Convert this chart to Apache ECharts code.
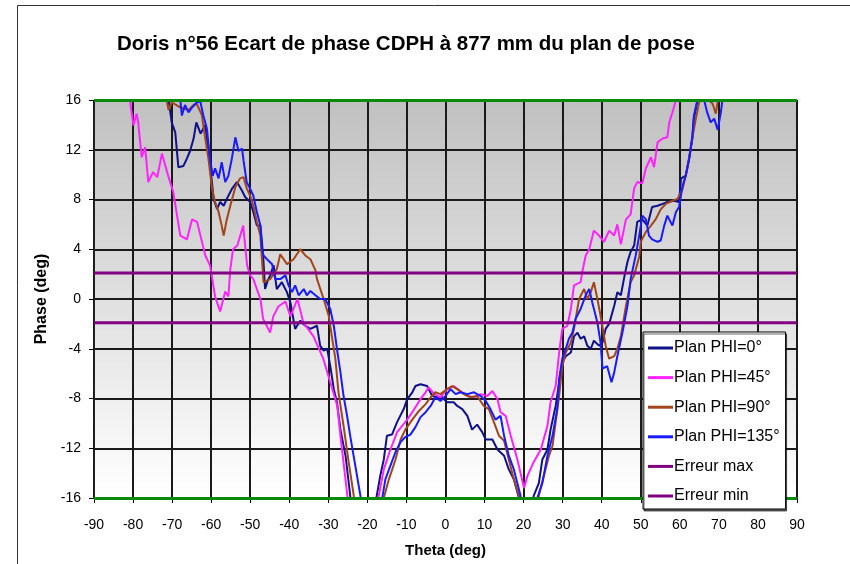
<!DOCTYPE html>
<html>
<head>
<meta charset="utf-8">
<script src="https://cdn.jsdelivr.net/npm/echarts@6/dist/echarts.min.js"></script>
<style>
  html, body { margin: 0; padding: 0; background: #ffffff; }
  #chart { width: 850px; height: 564px; }
</style>
</head>
<body>
<div id="chart"></div>
<script>
// Axis ticks
const thetaTicks = [-90, -80, -70, -60, -50, -40, -30, -20, -10, 0, 10, 20, 30, 40, 50, 60, 70, 80, 90];
const phaseTicks = [-16, -12, -8, -4, 0, 4, 8, 12, 16];

// Plan PHI=0°
const phi0Theta = [-72, -70.9, -70.1, -69.2, -68.4, -67.1, -66.2, -65.4, -64.5, -63.8, -62.7, -61.5, -60.7, -59.8, -59.4, -58.5, -57.7, -56.8, -56.0, -54.7, -53.4, -52.1, -51.3, -50.0, -49.2, -48.3, -47.4, -47.0, -46.6, -46.2, -45.5, -44.9, -44.0, -43.2, -41.9, -40.6, -39.7, -38.5, -37.2, -35.9, -34.6, -32.9, -32.1, -31.2, -30.3, -29.5, -28.6, -27.8, -26.9, -25.6, -24.4, -23.8,
  -18.5, -17.7, -16.7, -15.8, -15.0, -13.7, -12.4, -10.7, -9.8, -8.5, -7.7, -6.4, -4.7, -3.4, -2.1, -0.85, 0.4, 2.1, 3.0, 4.3, 5.6, 6.8, 8.1, 9.4, 10.3, 12.0, 13.3, 15.0, 16.2, 17.5, 18.8, 19.5,
  21.5, 22.6, 23.9, 24.8, 26.1, 26.9, 28.2, 29.1, 29.9, 30.8, 32.1, 32.9, 33.8, 34.6, 35.5, 36.3, 37.2, 38.0, 39.3, 40.2, 41.0, 41.9, 43.2, 44.0, 44.9, 45.8, 46.6, 47.4, 48.3, 49.1, 50.4, 51.7, 52.9, 54.3, 55.6, 56.8, 58.5, 59.8, 60.3, 61.5, 62.4, 63.2, 63.6, 64.5, 65.5, 67.0, 68.0, 69.0, 70.0];
const phi0Phase = [18, 16, 14.2, 13.4, 10.6, 10.7, 11.3, 11.9, 12.9, 14.2, 13.3, 14.0, 11.8, 9.4, 8.05, 7.25, 7.8, 7.5, 8.05, 8.85, 9.4, 8.7, 8.2, 7.8, 7.0, 5.9, 5.9, 4.6, 3.0, 0.8, 1.5, 1.9, 2.7, 0.8, 1.35, 0.55, -0.3, -2.4, -1.75, -2.15, -2.4, -2.15, -3.75, -4.15, -4.0, -5.4, -7.25, -8.3, -10.5, -12.6, -15.8, -17.5,
  -17.5, -16, -14.2, -12.9, -11.0, -10.9, -9.9, -8.85, -8.05, -7.5, -7.0, -6.85, -7.0, -7.8, -7.9, -7.9, -8.3, -8.3, -8.6, -8.85, -9.4, -10.5, -10.1, -10.7, -11.3, -11.3, -12.1, -12.6, -13.7, -14.5, -16, -17.5,
  -17.5, -15.8, -14.8, -12.9, -12.1, -10.5, -8.6, -6.7, -5.1, -4.6, -4.3, -3.0, -2.7, -3.2, -3.0, -3.75, -4.0, -3.35, -3.75, -3.5, -2.4, -2.0, -0.55, 0.55, 0.3, 1.8, 3.0, 3.8, 4.3, 6.2, 6.4, 5.9, 7.4, 7.5, 7.65, 7.8, 7.9, 7.8, 9.7, 9.9, 11.3, 12.9, 14.5, 15.9, 16.6, 16.3, 15.8, 16.4, 17.5];

// Plan PHI=45°
const phi45Theta = [-82, -80.8, -79.9, -79.1, -78.7, -77.8, -76.9, -76.1, -74.9, -73.8, -72.6, -71.0, -69.7, -67.9, -66.2, -64.9, -63.6, -61.5, -60.3, -59.7, -59.0, -57.7, -56.4, -55.6, -55.1, -54.4, -53.3, -51.8, -50.8, -50.0, -49.2, -47.4, -46.7, -44.9, -44.1, -42.8, -41.0, -39.7, -37.9, -36.4, -33.8, -31.3, -29.5, -27.7, -26.9, -25.1, -24.5,
  -17.8, -17.2, -15.8, -14.1, -12.4, -11.1, -9.8, -8.1, -6.4, -5.1, -4.3, -3.0, -1.3, 0.4, 2.1, 3.8, 5.6, 7.3, 9.0, 10.7, 12.0, 13.3, 14.1, 15.4, 16.7, 18.4, 20.1, 21.0, 22.6, 24.4, 26.1, 26.9, 28.2, 29.1, 29.9, 31.2, 32.1, 32.9, 34.6, 35.0, 35.9, 36.8, 38.0, 39.3, 40.6, 41.9, 43.2, 44.0, 44.9, 46.2, 47.4, 48.3, 49.1, 50.4, 51.3, 52.6, 53.4, 54.3, 55.6, 56.8, 57.3, 58.1, 59.0, 59.5];
const phi45Phase = [18, 16.0, 13.95, 14.9, 14.25, 11.4, 12.2, 9.4, 10.2, 9.8, 11.7, 9.9, 8.6, 5.1, 4.8, 6.4, 6.2, 3.5, 2.7, 1.6, 0.2, -1.0, 0.6, 0.2, 2.4, 4.0, 4.3, 5.9, 2.7, 1.9, 1.6, 0, -1.6, -2.7, -1.4, -0.6, -0.2, -1.4, 0, -1.9, -3.0, -4.8, -6.7, -8.6, -11.0, -15.9, -17.5,
  -17.5, -16, -13.7, -12.1, -10.7, -10.2, -9.7, -8.9, -8.05, -7.5, -7.1, -7.6, -7.9, -7.25, -7.0, -7.4, -7.8, -7.9, -7.65, -7.8, -7.4, -8.05, -9.1, -9.4, -11.0, -12.9, -15.2, -14.2, -13.1, -12.1, -10.2, -8.3, -7.0, -4.3, -2.4, -2.15, -0.8, 1.1, 1.35, 2.15, 3.5, 4.0, 5.5, 5.1, 4.6, 5.5, 5.1, 6.0, 4.4, 6.4, 6.8, 8.9, 9.4, 9.3, 10.5, 11.4, 10.6, 12.6, 12.9, 13.0, 14.2, 15.0, 16.0, 17.5];

// Plan PHI=90°
const phi90Theta = [-72, -71.4, -70.9, -70.1, -67.9, -65.8, -64.5, -63.7, -62.4, -61.5, -60.7, -59.8, -59.0, -58.1, -57.3, -56.8, -56.0, -55.1, -53.8, -52.6, -51.7, -50.9, -50.0, -49.2, -48.3, -47.4, -47.0, -46.6, -44.9, -43.2, -42.3, -40.6, -38.9, -37.2, -35.9, -34.6, -33.3, -32.9, -31.2, -29.9, -29.1, -28.2, -27.4, -26.1, -24.8, -23.5, -23.0,
  -16.5, -15.8, -14.5, -12.8, -11.5, -10.3, -8.5, -6.8, -5.1, -3.8, -2.6, -1.3, 0.4, 1.7, 3.0, 4.7, 6.4, 8.1, 9.8, 11.1, 12.4, 13.7, 15.0, 16.2, 17.5, 18.8, 19.5,
  23.2, 23.9, 25.2, 26.5, 27.4, 28.2, 29.1, 29.9, 30.8, 32.1, 32.9, 34.2, 35.5, 36.3, 37.2, 38.0, 38.9, 39.7, 41.0, 41.9, 43.2, 44.0, 44.9, 46.2, 47.4, 48.3, 49.6, 50.0, 51.3, 52.6, 53.8, 55.1, 56.4, 58.1, 59.4, 60.7, 61.9, 63.2, 64.1, 64.9, 65.5, 67.0, 68.5, 69.2, 70.0, 71.0];
const phi90Phase = [18, 16, 15.2, 15.8, 15.4, 15.2, 15.6, 15.7, 14.8, 12.9, 11.3, 8.9, 7.8, 7.0, 5.9, 5.1, 6.4, 7.5, 9.0, 9.7, 9.8, 8.9, 8.3, 7.5, 6.2, 5.1, 3.2, 1.35, 1.6, 2.4, 3.6, 2.8, 3.2, 4.0, 3.5, 3.2, 2.3, 1.6, 0, -1.35, -3.0, -4.8, -7.5, -10.2, -13.1, -15.8, -17.5,
  -17.5, -16, -14.5, -12.9, -11.3, -10.5, -9.7, -9.0, -8.45, -7.9, -7.5, -7.65, -7.25, -7.0, -7.25, -7.65, -7.9, -7.8, -8.6, -8.85, -9.9, -11.0, -11.4, -12.9, -14.5, -15.8, -17.5,
  -17.5, -15.8, -14.2, -12.6, -11.8, -9.9, -7.8, -5.4, -4.3, -3.5, -2.4, 0, 0.8, 0, 0.55, 1.35, 0, -1.35, -3.75, -4.8, -4.6, -4.0, -3.0, -0.55, 1.35, 1.9, 3.4, 4.6, 5.4, 5.9, 6.4, 7.2, 7.65, 7.9, 8.05, 8.85, 10.5, 12.9, 14.5, 15.75, 16.3, 16.5, 15.6, 14.9, 16.5, 17.5];

// Plan PHI=135°
const phi135Theta = [-69, -67.9, -67.5, -66.7, -65.8, -64.9, -63.7, -62.8, -62.0, -61.1, -60.3, -59.6, -59.0, -58.1, -57.3, -56.4, -55.6, -54.7, -53.8, -53.0, -52.1, -51.7, -50.9, -50.0, -49.2, -48.3, -47.4, -47.0, -46.6, -45.7, -44.4, -43.6, -42.3, -41.0, -40.2, -39.3, -38.5, -37.6, -36.3, -35.5, -34.6, -33.3, -32.1, -30.8, -29.5, -28.6, -27.8, -26.9, -26.1, -25.2, -24.4, -23.1, -21.8, -21.2,
  -17.0, -16.2, -15.4, -14.1, -12.8, -11.5, -10.3, -9.0, -7.7, -6.4, -5.1, -3.8, -2.6, -1.3, 0, 1.3, 2.6, 3.8, 5.6, 7.3, 9.0, 10.3, 11.5, 12.8, 14.1, 15.0, 16.2, 17.5, 19.2, 19.8,
  22.8, 23.5, 24.8, 26.1, 27.4, 28.6, 29.1, 29.9, 30.8, 31.6, 32.5, 33.3, 34.6, 35.9, 36.8, 37.6, 38.9, 39.7, 40.2, 41.4, 42.5, 43.2, 44.0, 45.3, 46.6, 47.4, 48.7, 49.6, 50.4, 51.3, 52.1, 52.9, 54.3, 55.1, 56.0, 56.8, 58.1, 59.0, 59.8, 60.7, 61.5, 62.4, 63.2, 63.6, 64.5, 65.5, 66.3, 67.0, 67.9, 68.8, 69.7, 70.5, 70.9, 71.3];
const phi135Phase = [18, 16, 14.75, 15.6, 15.0, 15.4, 15.8, 15.9, 14.75, 13.7, 11.3, 9.9, 10.5, 9.7, 11.0, 9.4, 9.9, 11.3, 13.0, 11.9, 12.1, 11.1, 9.4, 8.85, 8.3, 7.0, 5.9, 4.0, 3.5, 3.2, 2.8, 1.6, 1.6, 1.9, 1.1, 0.55, 1.1, 0.3, 0.8, 0.3, 0.65, 0.3, 0, 0, -0.8, -2.15, -4.0, -5.9, -7.8, -9.4, -11.0, -13.4, -15.8, -17.5,
  -17.5, -16, -14.5, -13.4, -12.3, -11.5, -11.1, -10.9, -10.3, -9.5, -9.1, -8.6, -7.9, -8.2, -7.8, -7.25, -7.65, -7.5, -7.65, -7.5, -7.8, -8.2, -8.85, -9.7, -9.4, -11.0, -12.6, -13.7, -15.8, -17.5,
  -17.5, -16, -14.8, -12.6, -11.0, -8.85, -6.4, -4.8, -4.0, -3.2, -2.7, -1.6, -0.8, 0.3, 0.8, -0.3, -1.9, -3.5, -5.6, -5.4, -6.7, -5.9, -4.6, -2.7, -0.55, 1.6, 3.5, 5.1, 6.7, 6.4, 5.1, 4.8, 4.6, 4.7, 5.9, 6.7, 5.9, 7.0, 7.4, 9.1, 9.9, 11.3, 13.1, 14.75, 16, 16.5, 15.9, 15.0, 14.2, 14.5, 13.6, 15.0, 16, 17.5];

// Tolerance limits
const errorMaxTheta = [-90, 90];
const errorMaxPhase = [2.1, 2.1];
const errorMinTheta = [-90, 90];
const errorMinPhase = [-1.9, -1.9];

const seriesNames = ['Plan PHI=0°', 'Plan PHI=45°', 'Plan PHI=90°', 'Plan PHI=135°', 'Erreur max', 'Erreur min'];
const seriesColors = ['#10108a', '#ff22ff', '#a0461a', '#1a1aff', '#800080', '#800080'];

function pairs(xs, ys) {
  return xs.map((x, i) => [x, ys[i]]);
}

const chart = echarts.init(document.getElementById('chart'), null, { renderer: 'canvas' });

const font = 'Liberation Sans, Arial, sans-serif';

function curve(idx, xs, ys, width) {
  return {
    name: seriesNames[idx],
    type: 'line',
    data: pairs(xs, ys),
    symbol: 'none',
    showSymbol: false,
    clip: true,
    color: seriesColors[idx],
    lineStyle: { color: seriesColors[idx], width: width },
    emphasis: { disabled: true },
    animation: false
  };
}

const errMax = curve(4, errorMaxTheta, errorMaxPhase, 3);
// green frame lines along the top and bottom of the phase range
errMax.markLine = {
  silent: true,
  symbol: 'none',
  label: { show: false },
  lineStyle: { color: '#0a8a0a', width: 3, type: 'solid' },
  data: [{ yAxis: phaseTicks[phaseTicks.length - 1] }, { yAxis: phaseTicks[0] }],
  animation: false
};

chart.setOption({
  animation: false,
  backgroundColor: '#ffffff',
  title: {
    text: 'Doris n°56 Ecart de phase CDPH à 877 mm du plan de pose',
    left: 112,
    top: 29,
    textStyle: { fontFamily: font, fontSize: 20.5, fontWeight: 'bold', color: '#000' }
  },
  graphic: [{
    type: 'rect',
    shape: { x: 17.5, y: 5.5, width: 900, height: 700 },
    style: { fill: 'none', stroke: '#333', lineWidth: 1 },
    silent: true,
    z: -1
  }],
  grid: {
    left: 94, right: 53, top: 100, bottom: 66,
    show: true,
    borderColor: '#3aa83a',
    borderWidth: 1,
    backgroundColor: new echarts.graphic.LinearGradient(0, 0, 0, 1, [
      { offset: 0, color: '#c0c0c0' },
      { offset: 1, color: '#ffffff' }
    ])
  },
  legend: {
    orient: 'vertical',
    left: 643,
    top: 332,
    z: 20,
    padding: [7, 6, 4, 5],
    itemGap: 11.6,
    itemWidth: 25,
    itemHeight: 3,
    icon: 'rect',
    backgroundColor: '#ffffff',
    borderColor: '#000',
    borderWidth: 1,
    borderRadius: 0,
    shadowColor: 'rgba(0,0,0,0.6)',
    shadowOffsetX: 1,
    shadowOffsetY: 2,
    shadowBlur: 0,
    data: seriesNames,
    textStyle: { fontFamily: font, fontSize: 16, lineHeight: 18, color: '#000', padding: [0, 0, 0, -4] }
  },
  xAxis: {
    type: 'value',
    min: thetaTicks[0],
    max: thetaTicks[thetaTicks.length - 1],
    interval: 10,
    name: 'Theta (deg)',
    nameLocation: 'middle',
    nameGap: 45,
    nameTextStyle: { fontFamily: font, fontSize: 15, fontWeight: 'bold', color: '#000' },
    axisLine: { show: true, onZero: false, lineStyle: { color: '#0a8a0a', width: 2 } },
    axisTick: { show: true, inside: false, length: 5, lineStyle: { color: '#000', width: 1 } },
    axisLabel: { margin: 20, fontFamily: font, fontSize: 14, color: '#000' },
    splitLine: { show: true, lineStyle: { color: '#1a1a1a', width: 2 } }
  },
  yAxis: {
    type: 'value',
    min: phaseTicks[0],
    max: phaseTicks[phaseTicks.length - 1],
    interval: 4,
    name: 'Phase (deg)',
    nameLocation: 'middle',
    nameGap: 44,
    nameTextStyle: { fontFamily: font, fontSize: 16, fontWeight: 'bold', color: '#000' },
    axisLine: { show: true, onZero: false, lineStyle: { color: '#222', width: 1 } },
    axisTick: { show: true, inside: false, length: 5, lineStyle: { color: '#000', width: 1 } },
    axisLabel: { margin: 13, fontFamily: font, fontSize: 14, color: '#000' },
    splitLine: { show: true, lineStyle: { color: '#1a1a1a', width: 2 } }
  },
  series: [
    curve(0, phi0Theta, phi0Phase, 2),
    curve(1, phi45Theta, phi45Phase, 2),
    curve(2, phi90Theta, phi90Phase, 2),
    curve(3, phi135Theta, phi135Phase, 2),
    errMax,
    curve(5, errorMinTheta, errorMinPhase, 3)
  ]
});
</script>
</body>
</html>
